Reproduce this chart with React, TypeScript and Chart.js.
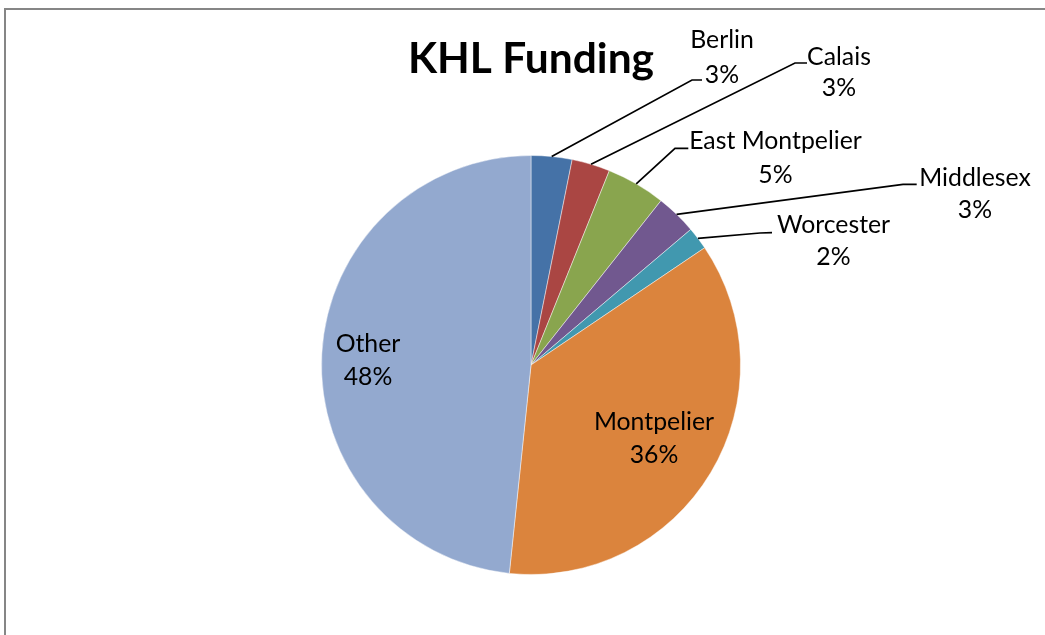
import React, { useEffect, useRef } from "react";
import { Chart, registerables } from "chart.js";

Chart.register(...registerables);

const title = "KHL Funding";
const categories = ["Berlin", "Calais", "East Montpelier", "Middlesex", "Worcester", "Montpelier", "Other"];
const values = [3.15, 2.95, 4.55, 3.15, 1.75, 36.1, 48.35];
const sliceColors = ["#4572A7", "#AA4643", "#89A54E", "#71588F", "#4198AF", "#DB843D", "#93A9CF"];

// label layout relative to pie centre: text centre x, baseline of line 1 and 2, optional leader elbow/end
type LabelPos = { tx: number; y1: number; y2: number; elbow?: [number, number]; end?: [number, number] };
const labelLayout: LabelPos[] = [
  { tx: 191, y1: -317, y2: -282, elbow: [161, -285], end: [171, -285] },
  { tx: 308, y1: -300, y2: -269, elbow: [264, -302], end: [276, -302] },
  { tx: 244.5, y1: -215.7, y2: -182.3, elbow: [144, -216.7], end: [157.3, -216.7] },
  { tx: 444, y1: -179, y2: -146.7, elbow: [372, -180.7], end: [385.7, -180.7] },
  { tx: 302.5, y1: -131.7, y2: -100, elbow: [229, -132], end: [241, -132.3] },
  { tx: 123, y1: 65, y2: 98.3 },
  { tx: -163, y1: -12.7, y2: 20 },
];

const FONT = "Lato, 'Open Sans', sans-serif";

const labelPlugin = {
  id: "pieLabels",
  beforeDraw(chart: any) {
    const ctx = chart.ctx;
    ctx.save();
    ctx.fillStyle = "#FFFFFF";
    ctx.fillRect(0, 0, chart.width, chart.height);
    ctx.fillStyle = "#868686";
    ctx.fillRect(4, 8, 2, chart.height);
    ctx.fillRect(4, 8, chart.width, 2);
    ctx.restore();
  },
  afterDatasetsDraw(chart: any) {
    const ctx = chart.ctx;
    const meta = chart.getDatasetMeta(0);
    const data = chart.data.datasets[0].data as number[];
    const total = data.reduce((a, b) => a + b, 0);
    if (!meta.data.length) return;
    const first = meta.data[0].getProps(["x", "y"], true);
    const cx = first.x;
    const cy = first.y;
    ctx.save();
    // title
    ctx.fillStyle = "#000";
    ctx.textAlign = "center";
    ctx.textBaseline = "alphabetic";
    ctx.font = `bold 42.5px ${FONT}`;
    ctx.fillText(title, cx, cy - 292);

    ctx.font = `24.8px ${FONT}`;
    meta.data.forEach((arc: any, i: number) => {
      const p = arc.getProps(["x", "y", "startAngle", "endAngle", "outerRadius"], true);
      const lay = labelLayout[i];
      const pct = Math.round((data[i] / total) * 100) + "%";
      if (lay.elbow && lay.end) {
        const mid = (p.startAngle + p.endAngle) / 2;
        const sx = p.x + Math.cos(mid) * p.outerRadius;
        const sy = p.y + Math.sin(mid) * p.outerRadius;
        ctx.strokeStyle = "#000";
        ctx.lineWidth = 1.7;
        ctx.beginPath();
        ctx.moveTo(sx, sy);
        ctx.lineTo(cx + lay.elbow[0], cy + lay.elbow[1]);
        ctx.lineTo(cx + lay.end[0], cy + lay.end[1]);
        ctx.stroke();
      }
      ctx.fillStyle = "#000";
      ctx.fillText(chart.data.labels[i], cx + lay.tx, cy + lay.y1);
      ctx.fillText(pct, cx + lay.tx, cy + lay.y2);
    });
    ctx.restore();
  },
};

export default function App() {
  const ref = useRef<HTMLCanvasElement | null>(null);
  useEffect(() => {
    if (!ref.current) return;
    const chart = new Chart(ref.current, {
      type: "pie",
      data: {
        labels: categories,
        datasets: [
          {
            data: values,
            backgroundColor: sliceColors,
            borderColor: "rgba(255,255,255,0.45)",
            borderWidth: 1,
          },
        ],
      },
      options: {
        responsive: false,
        animation: false,
        layout: { padding: { left: 321, right: 304, top: 155, bottom: 60 } },
        plugins: {
          legend: { display: false },
          tooltip: { enabled: false },
          title: { display: false },
        },
      },
      plugins: [labelPlugin],
    });
    return () => chart.destroy();
  }, []);
  return (
    <div style={{ position: "fixed", left: 0, top: 0, width: 1045, height: 635, background: "#fff" }}>
      <canvas ref={ref} width={1045} height={635} style={{ width: 1045, height: 635, display: "block" }} />
    </div>
  );
}
